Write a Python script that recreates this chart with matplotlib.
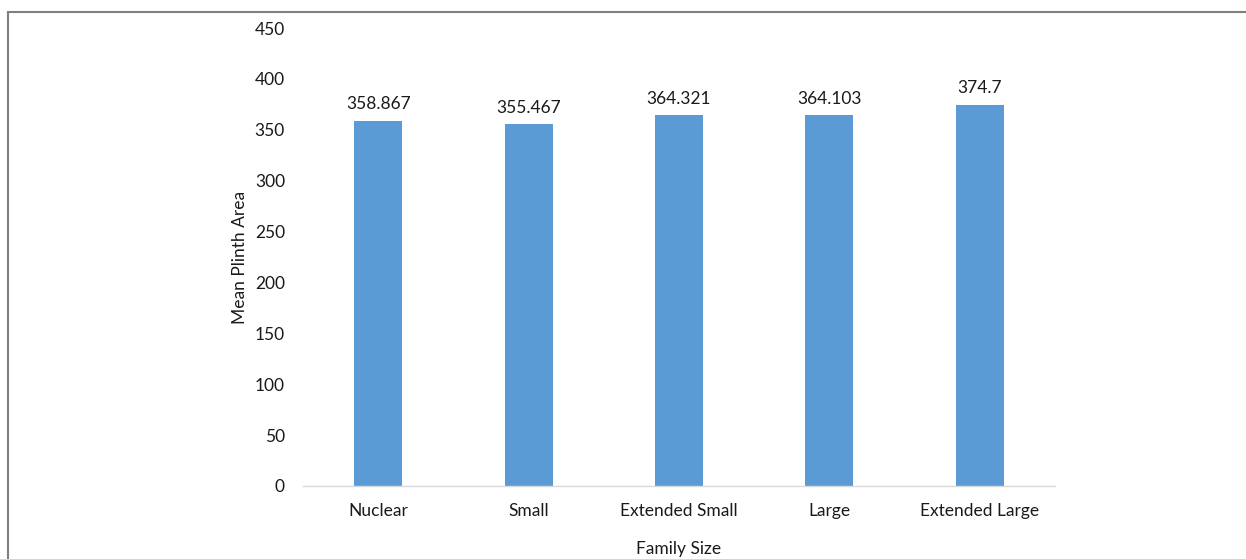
import matplotlib
matplotlib.use("Agg")
import matplotlib.pyplot as plt
from matplotlib.lines import Line2D

categories = ["Nuclear", "Small", "Extended Small", "Large", "Extended Large"]
values = [358.867, 355.467, 364.321, 364.103, 374.7]
value_labels = ["358.867", "355.467", "364.321", "364.103", "374.7"]
y_ticks = [0, 50, 100, 150, 200, 250, 300, 350, 400, 450]

plt.rcParams['font.family'] = ['Lato', 'DejaVu Sans']
FS = 12.5
TXT = "#1a1a1a"

fig = plt.figure(figsize=(12.46, 5.59), dpi=100)
ax = fig.add_axes([303/1246, 1-486/559, (1055-303)/1246, (486-28)/559])

x = list(range(len(categories)))
ax.bar(x, values, width=0.32, color="#5B9BD5", zorder=2)
for xi, v, lab in zip(x, values, value_labels):
    ax.annotate(lab, (xi, v), xytext=(0, 6), textcoords="offset points",
                ha="center", va="bottom", fontsize=FS, color=TXT)

ax.set_xlim(-0.5, len(categories) - 0.5)
ax.set_ylim(0, 450)
ax.set_yticks(y_ticks)
ax.set_xticks(x)
ax.set_xticklabels(categories)
ax.tick_params(axis="both", length=0, labelsize=FS, colors=TXT)
ax.tick_params(axis="y", pad=13)
ax.tick_params(axis="x", pad=12)
for s in ["top", "right", "left"]:
    ax.spines[s].set_visible(False)
ax.spines["bottom"].set_color("#D9D9D9")
ax.spines["bottom"].set_linewidth(1.0)

ax.set_ylabel("Mean Plinth Area", fontsize=FS, color=TXT, va="center")
ax.yaxis.set_label_coords(-63/752, 0.5)
ax.set_xlabel("Family Size", fontsize=FS, color=TXT, va="center")
ax.xaxis.set_label_coords(0.5, -63/458)

# figure frame (left and top borders)
fig.add_artist(Line2D([8/1246, 8/1246], [0, 1-11.5/559], transform=fig.transFigure,
                      color="#808080", lw=1.5))
fig.add_artist(Line2D([8/1246, 1], [1-11.5/559, 1-11.5/559], transform=fig.transFigure,
                      color="#808080", lw=1.5))

fig.savefig("out.png", dpi=100, facecolor="white")
